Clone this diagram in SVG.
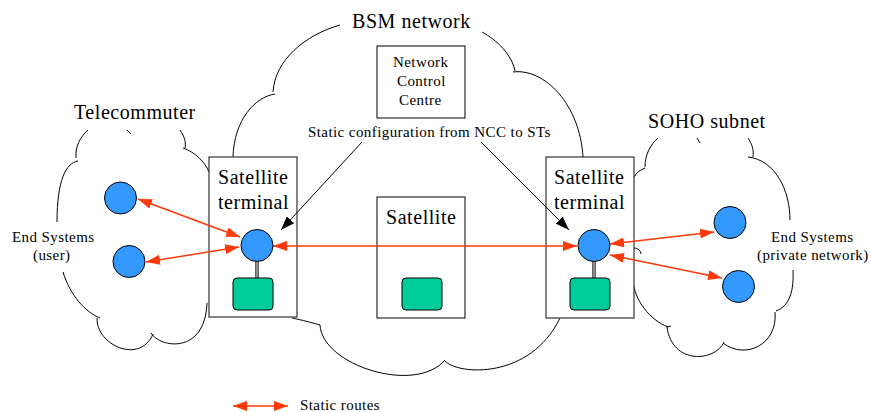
<svg xmlns="http://www.w3.org/2000/svg" width="871" height="412" viewBox="0 0 871 412">
<style>
.cloud{fill:none;stroke:#000;stroke-width:1}
.box{fill:#fff;stroke:#000;stroke-width:1}
.tbox{fill:#fff;stroke:#333;stroke-width:1.2}
.big{font-size:20px;letter-spacing:0.55px;fill:#000}
.small{font-size:15px;letter-spacing:0.42px;fill:#000}
.node{fill:#3399FF;stroke:#000;stroke-width:1}
.dev{fill:#00CC99;stroke:#000;stroke-width:1}
.route{stroke:#FF3A0A;stroke-width:1.5;fill:none;marker-start:url(#rh);marker-end:url(#rh)}
.cfg{stroke:#000;stroke-width:1;fill:none;marker-end:url(#bh)}
</style>
<defs>
<marker id="rh" markerUnits="userSpaceOnUse" markerWidth="14" markerHeight="10" refX="14" refY="5" orient="auto-start-reverse"><path d="M0,0 L14,5 L0,10 z" fill="#FF3A0A"/></marker>
<marker id="bh" markerUnits="userSpaceOnUse" markerWidth="14" markerHeight="10" refX="14" refY="5" orient="auto"><path d="M0,0 L14,5 L0,10 z" fill="#000"/></marker>
</defs>
<rect width="871" height="412" fill="#fff"/>

<g id="bsm-cloud">
<path class="cloud" d="M340,25 C305,35 275,60 273,92 M275,94 C255,97 234,120 233,157"/>
<path class="cloud" d="M482,32 C497,40 512,55 515,71 M513,72 C545,68 580,105 583,157"/>
<path class="cloud" d="M292,318 C302,320 313,323 320,325 M320,325 C322,365 415,395 445,360 M445,361 C458,375 530,380 560,318"/>
<text class="big" font-family="Liberation Serif" x="352" y="28">BSM network</text>
</g>

<g id="telecommuter">
<path class="cloud" d="M88,130 C80,137 75,147 76,158 M78,161 C66,163 57,180 57,222"/>
<path class="cloud" d="M63,272 C70,295 85,312 100,318 M97,318 C96,345 140,365 153,334 M151,333 C160,348 205,355 207,303"/>
<path class="cloud" d="M180,130 C185,137 186,143 185,148 M183,148 C195,152 205,162 209,172 M127,130 L131,134"/>
<text class="big" font-family="Liberation Serif" x="74" y="119">Telecommuter</text>
<text class="small" font-family="Liberation Serif" x="12" y="242">End Systems</text>
<text class="small" font-family="Liberation Serif" x="33" y="260">(user)</text>
</g>

<g id="soho">
<path class="cloud" d="M658,138 C650,145 645,155 645,167 M645,168 C640,170 636,173 634,177 M697,138 L700,143"/>
<path class="cloud" d="M748,138 C752,144 754,150 753,157 M748,157 C775,160 790,190 790,220"/>
<path class="cloud" d="M793,270 C794,290 790,306 776,311 M775,312 C778,345 745,360 723,343 M724,342 C715,362 672,365 667,327 M667,327 L671,326 M668,327 C650,320 634,300 633,280 M634,248 C638,248 641,251 641,254"/>
<text class="big" font-family="Liberation Serif" x="648" y="128">SOHO subnet</text>
<text class="small" font-family="Liberation Serif" x="771" y="242">End Systems</text>
<text class="small" font-family="Liberation Serif" x="757" y="260">(private network)</text>
</g>

<g id="ncc">
<rect class="box" x="377" y="46" width="88" height="72"/>
<text class="small" font-family="Liberation Serif" x="393" y="67">Network</text>
<text class="small" font-family="Liberation Serif" x="397" y="86">Control</text>
<text class="small" font-family="Liberation Serif" x="399" y="105">Centre</text>
</g>

<g id="satellite">
<rect class="box" x="377" y="197" width="88" height="121"/>
<text class="big" font-family="Liberation Serif" x="386" y="224">Satellite</text>
<rect class="dev" x="402" y="278" width="40" height="32" rx="4"/>
</g>

<g id="st-left">
<rect class="tbox" x="209" y="157" width="88" height="160"/>
<text class="big" font-family="Liberation Serif" x="218" y="184">Satellite</text>
<text class="big" font-family="Liberation Serif" x="218" y="209">terminal</text>
<line x1="257" y1="261" x2="257" y2="278" stroke="#333" stroke-width="3.5"/>
<line x1="257" y1="261" x2="257" y2="278" stroke="#aaa" stroke-width="1.5"/>
<rect class="dev" x="233" y="278" width="40" height="32" rx="4"/>
</g>

<g id="st-right">
<rect class="tbox" x="546" y="157" width="88" height="161"/>
<text class="big" font-family="Liberation Serif" x="554" y="184">Satellite</text>
<text class="big" font-family="Liberation Serif" x="554" y="209">terminal</text>
<line x1="594" y1="261" x2="594" y2="278" stroke="#333" stroke-width="3.5"/>
<line x1="594" y1="261" x2="594" y2="278" stroke="#aaa" stroke-width="1.5"/>
<rect class="dev" x="570" y="278" width="40" height="32" rx="4"/>
</g>

<g id="connectors">
<text class="small" font-family="Liberation Serif" x="308" y="137">Static configuration from NCC to STs</text>
<path class="cfg" d="M362,142 L281,230"/>
<path class="cfg" d="M481,142 L569,230"/>
<path class="route" d="M138,199 L240,237"/>
<path class="route" d="M146,262 L239,247"/>
<path class="route" d="M273,246 L577,246"/>
<path class="route" d="M610,244 L714,232"/>
<path class="route" d="M610,255 L722,278"/>
<path class="route" d="M233,406 L288,406"/>
<text class="small" font-family="Liberation Serif" x="300" y="410">Static routes</text>
</g>

<g id="nodes">
<circle id="es-user-1" class="node" cx="120.5" cy="198" r="16"/>
<circle id="es-user-2" class="node" cx="129" cy="261.5" r="16"/>
<circle id="st-left-node" class="node" cx="257" cy="245.5" r="16"/>
<circle id="st-right-node" class="node" cx="594" cy="245.5" r="16"/>
<circle id="es-priv-1" class="node" cx="730" cy="222.5" r="16"/>
<circle id="es-priv-2" class="node" cx="738.5" cy="286.5" r="16"/>
</g>
</svg>
